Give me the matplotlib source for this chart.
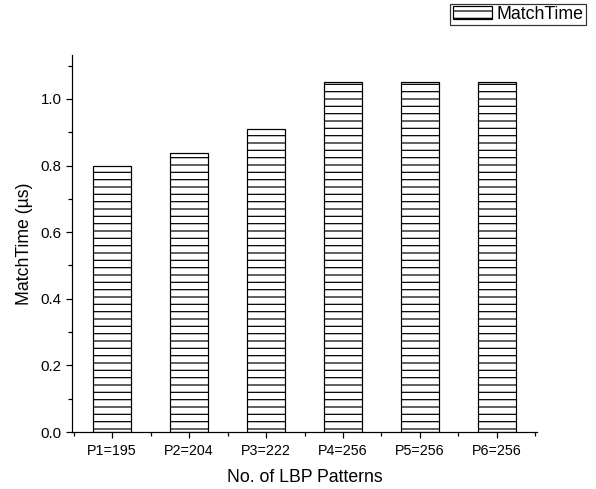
import matplotlib
matplotlib.use("Agg")
import matplotlib.pyplot as plt
from matplotlib.ticker import MultipleLocator, FixedLocator

categories = ["P1=195", "P2=204", "P3=222", "P4=256", "P5=256", "P6=256"]
match_time = [0.80, 0.838, 0.91, 1.05, 1.05, 1.05]

plt.rcParams['font.family'] = ['Liberation Sans', 'DejaVu Sans']
plt.rcParams['hatch.linewidth'] = 1.0

DPI = 88
fig = plt.figure(figsize=(596 / DPI, 489 / DPI), dpi=DPI)
ax = fig.add_axes([72 / 596, 1 - 432 / 489, (537 - 72) / 596, (432 - 55) / 489])

x = list(range(1, len(categories) + 1))
bars = ax.bar(x, match_time, width=0.5, facecolor='white', edgecolor='black',
              hatch='--', linewidth=1.0, label='MatchTime')

ax.set_xlim(0.48, 6.52)
ax.set_ylim(0, 1.132)
ax.set_xticks(x)
ax.set_xticklabels(categories, fontsize=11.7)
ax.xaxis.set_minor_locator(FixedLocator([i + 0.5 for i in range(0, 7)]))
ax.yaxis.set_major_locator(MultipleLocator(0.2))
ax.yaxis.set_minor_locator(MultipleLocator(0.1))
ax.yaxis.set_major_formatter(matplotlib.ticker.FormatStrFormatter('%.1f'))
ax.tick_params(axis='y', labelsize=12.3)
ax.tick_params(axis='x', pad=5)
ax.tick_params(which='major', direction='out', length=5, width=1)
ax.tick_params(which='minor', direction='out', length=3, width=1)

for s in ['top', 'right']:
    ax.spines[s].set_visible(False)
for s in ['left', 'bottom']:
    ax.spines[s].set_linewidth(1.0)

ax.set_xlabel("No. of LBP Patterns", fontsize=14.4, labelpad=9)
ax.set_ylabel("MatchTime (\u00b5s)", fontsize=14.4, labelpad=6)

leg = fig.legend(handles=[bars], labels=['MatchTime'], loc='upper right',
                 bbox_to_anchor=(586 / 596, 1 - 4 / 489), fontsize=14.5,
                 frameon=True, fancybox=False, edgecolor='black',
                 handlelength=2.2, handleheight=0.75, borderpad=0.12,
                 handletextpad=0.3, borderaxespad=0)
leg.get_frame().set_linewidth(1.0)

fig.savefig("out.png", dpi=DPI)
